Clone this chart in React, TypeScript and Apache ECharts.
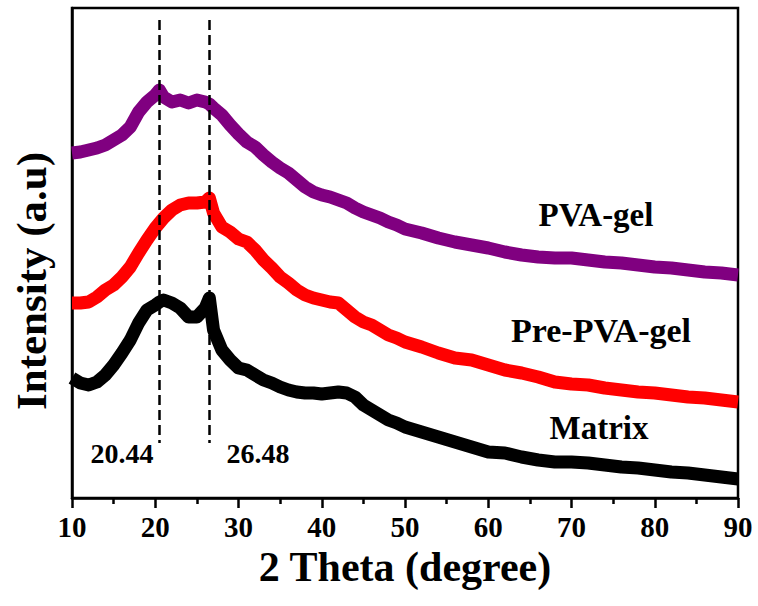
import React, { useEffect, useRef } from "react";
import * as echarts from "echarts";

const angles = [
  10, 11, 12, 13, 14, 15, 16, 17, 18, 19, 20, 20.5, 21, 22, 23, 24, 25, 26, 26.5,
  27, 28, 29, 30, 31, 32, 33, 34, 35, 36, 37, 38, 39, 40, 41, 42, 43, 44, 45, 46,
  47, 48, 49, 50, 52, 54, 56, 58, 60, 62, 64, 66, 68, 70, 72, 74, 76, 78, 80, 82,
  84, 86, 88, 90,
];

const pvaGel = [
  345, 346, 348, 350, 353, 358, 363, 371, 386, 396, 403, 408, 401, 396, 398, 395, 398, 396, 394,
  390, 383, 373, 364, 356, 351, 343, 336, 330, 325, 318, 311, 306, 303, 301, 298, 295, 290, 286, 283,
  280, 276, 273, 269, 265, 260, 256, 253, 250, 246, 243, 241, 240, 240, 238, 236, 235, 233, 231, 230,
  228, 226, 225, 223,
];

const prePvaGel = [
  195, 195, 196, 201, 208, 213, 221, 231, 245, 258, 270, 275, 280, 288, 293, 295, 295, 296, 300,
  285, 271, 266, 259, 256, 248, 238, 230, 221, 215, 208, 203, 200, 198, 196, 195, 188, 181, 176, 173,
  168, 163, 160, 156, 151, 145, 140, 138, 133, 128, 125, 121, 116, 114, 113, 110, 108, 106, 105, 103,
  101, 100, 98, 96,
];

const matrix = [
  120, 115, 113, 116, 123, 133, 145, 158, 175, 188, 193, 196, 198, 195, 190, 181, 181, 190, 200,
  168, 148, 138, 130, 128, 123, 118, 115, 111, 108, 106, 105, 105, 104, 105, 106, 105, 101, 93, 88,
  83, 78, 75, 71, 66, 61, 56, 51, 46, 45, 41, 38, 36, 36, 35, 33, 31, 30, 28, 26,
  25, 23, 21, 19,
];

const peakAngles = [20.44, 26.48];
const peakLabels = ["20.44", "26.48"];
const seriesNames = ["PVA-gel", "Pre-PVA-gel", "Matrix"];
const xTicks = [10, 20, 30, 40, 50, 60, 70, 80, 90];

const FONT = '"Liberation Serif", "Times New Roman", serif';

export default function App() {
  const ref = useRef<HTMLDivElement>(null);
  useEffect(() => {
    document.body.style.margin = "0";
    const chart = echarts.init(ref.current!, undefined, { renderer: "svg" });
    const mk = (vals: number[]) => angles.map((a, i) => [a, vals[i]]);
    const lineW = 13;
    chart.setOption({
      animation: false,
      backgroundColor: "#ffffff",
      grid: {
        left: 72,
        right: 20,
        top: 8,
        bottom: 108,
        show: true,
        borderColor: "#000",
        borderWidth: 2.5,
      },
      xAxis: {
        type: "value",
        min: xTicks[0],
        max: xTicks[xTicks.length - 1],
        interval: 10,
        name: "2 Theta (degree)",
        nameLocation: "middle",
        nameGap: 48,
        nameTextStyle: { fontFamily: FONT, fontWeight: "bold", fontSize: 42, color: "#000" },
        axisLine: { lineStyle: { color: "#000", width: 2.5 } },
        axisTick: { show: true, length: 10, lineStyle: { color: "#000", width: 2.5 } },
        minorTick: { show: true, splitNumber: 2, length: 6, lineStyle: { color: "#000", width: 2.5 } },
        splitLine: { show: false },
        axisLabel: { fontFamily: FONT, fontWeight: "bold", fontSize: 29, color: "#000", margin: 14 },
      },
      yAxis: {
        type: "value",
        min: 0,
        max: 490,
        axisLine: { show: true, lineStyle: { color: "#000", width: 2.5 } },
        axisTick: { show: false },
        axisLabel: { show: false },
        splitLine: { show: false },
      },
      graphic: [
        {
          type: "text",
          x: 31,
          y: 281,
          rotation: Math.PI / 2,
          style: {
            text: "Intensity (a.u)",
            fontFamily: FONT,
            fontWeight: "bold",
            fontSize: 43,
            fill: "#000",
            align: "center",
            verticalAlign: "middle",
          },
        },
        ...[
          { t: seriesNames[0], x: 596, y: 215, s: 33 },
          { t: seriesNames[1], x: 601, y: 330, s: 34 },
          { t: seriesNames[2], x: 599, y: 428, s: 33 },
          { t: peakLabels[0], x: 122, y: 453, s: 28 },
          { t: peakLabels[1], x: 258, y: 453, s: 28 },
        ].map((d) => ({
          type: "text",
          x: d.x,
          y: d.y,
          style: {
            text: d.t,
            fontFamily: FONT,
            fontWeight: "bold",
            fontSize: d.s,
            fill: "#000",
            align: "center",
            verticalAlign: "middle",
          },
        })),
      ],
      series: [
        {
          name: seriesNames[2],
          type: "line",
          data: mk(matrix),
          showSymbol: false,
          symbol: "none",
          lineStyle: { color: "#000000", width: lineW, join: "round", cap: "butt" },
          z: 3,
          markLine: {
            silent: true,
            symbol: "none",
            label: { show: false },
            lineStyle: { color: "#000", width: 2.5, type: [10, 5] },
            data: peakAngles.map((a) => [{ coord: [a, 478] }, { coord: [a, 55] }]),
            z: 5,
          },
        },
        {
          name: seriesNames[1],
          type: "line",
          data: mk(prePvaGel),
          showSymbol: false,
          symbol: "none",
          lineStyle: { color: "#ff0000", width: lineW, join: "round", cap: "butt" },
          z: 2,
        },
        {
          name: seriesNames[0],
          type: "line",
          data: mk(pvaGel),
          showSymbol: false,
          symbol: "none",
          lineStyle: { color: "#800080", width: lineW, join: "round", cap: "butt" },
          z: 2,
        },
      ],
    });
    return () => chart.dispose();
  }, []);
  return (
    <div
      ref={ref}
      style={{ position: "absolute", left: 0, top: 0, width: 758, height: 606 }}
    />
  );
}
